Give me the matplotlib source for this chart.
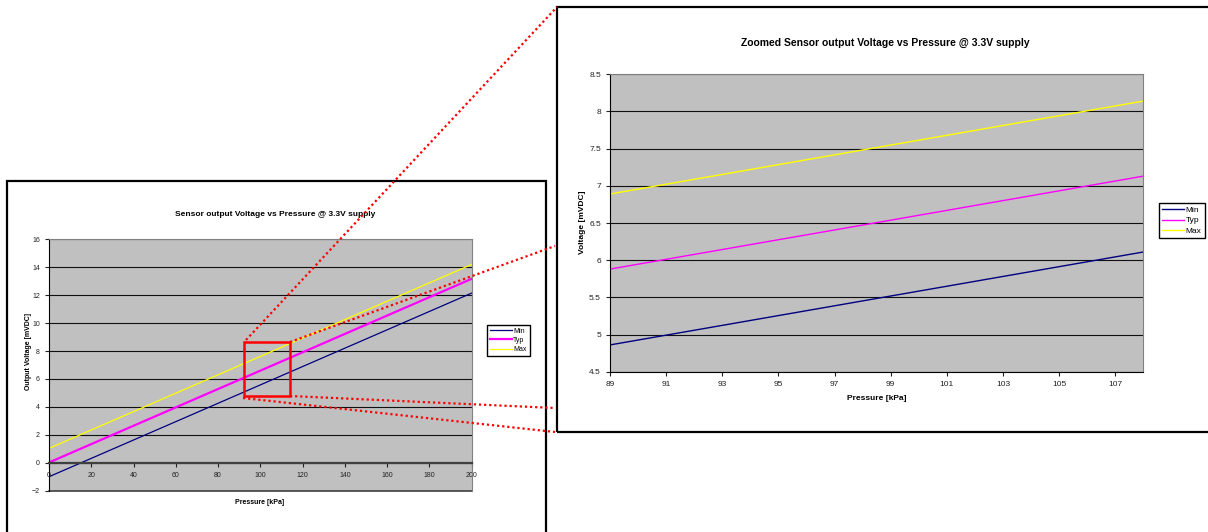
import matplotlib
matplotlib.use("Agg")
import matplotlib.pyplot as plt
from matplotlib.lines import Line2D
from matplotlib.patches import Rectangle

plt.rcParams['font.family'] = ['Liberation Sans', 'DejaVu Sans']

# full range chart
pressure = [0, 200]
v_min = [-1.0, 12.15]
v_typ = [0.02, 13.17]
v_max = [1.03, 14.2]

# zoomed chart
pressure_zoom = [89, 108]
vz_min = [4.86, 6.11]
vz_typ = [5.88, 7.13]
vz_max = [6.89, 8.14]

labels = ["Min", "Typ", "Max"]
colors = ["#000080", "#FF00FF", "#FFFF00"]

# red box drawn on the full chart (data units: x0, y0, x1, y1)
zoom_box = [92.3, 4.78, 114, 8.67]

W, H = 1208, 532
fig = plt.figure(figsize=(W / 100, H / 100), dpi=100)


def px(x, y):
    return x / W, 1 - y / H


def axes_at(x0, y0, x1, y1):
    l, t = px(x0, y0)
    r, b = px(x1, y1)
    return fig.add_axes([l, b, r - l, t - b])


def style(ax, fs):
    ax.set_facecolor("#C0C0C0")
    ax.grid(axis="y", color="#101010", lw=0.8)
    ax.set_axisbelow(True)
    for s in ["top", "right", "bottom"]:
        ax.spines[s].set_color("#808080")
    ax.spines["left"].set_color("black")
    ax.tick_params(labelsize=fs, colors="#222222", length=3, width=0.8)


# ---- left chart ----
ax1 = axes_at(49, 239.3, 471.7, 490.7)
style(ax1, 5)
for y, lab, c, lw in zip([v_min, v_typ, v_max], labels, colors, [0.9, 1.6, 0.9]):
    ax1.plot(pressure, y, color=c, lw=lw, label=lab)
ax1.set_xlim(0, 200)
ax1.set_ylim(-2, 16)
ax1.set_xticks(range(0, 201, 20))
ax1.set_yticks(range(-2, 17, 2))
# x axis crosses at zero, plot area still runs down to -2
ax1.spines["bottom"].set_position(("data", 0))
ax1.spines["bottom"].set_color("#404040")
ax1.spines["bottom"].set_linewidth(1.6)
ax1.axhline(-2, color="#404040", lw=1.2, clip_on=False)
ax1.tick_params(axis="x", pad=4, direction="out")
ax1.add_patch(Rectangle((zoom_box[0], zoom_box[1]), zoom_box[2] - zoom_box[0],
                        zoom_box[3] - zoom_box[1], fill=False, ec="red", lw=1.8,
                        zorder=5, clip_on=False))
fig.text(*px(275, 214), "Sensor output Voltage vs Pressure @ 3.3V supply",
         ha="center", va="center", fontsize=6, fontweight="bold")
fig.text(*px(260, 503), "Pressure [kPa]", ha="center", va="center",
         fontsize=5, fontweight="bold")
fig.text(*px(29, 351), "Output Voltage [mVDC]", ha="center", va="center",
         rotation=90, fontsize=5, fontweight="bold")
ax1.legend(loc="upper left", bbox_to_anchor=px(487, 325),
           bbox_transform=fig.transFigure, borderaxespad=0, fontsize=5,
           frameon=True, fancybox=False, edgecolor="black", framealpha=1,
           handlelength=3.2, handletextpad=0.2, labelspacing=0.3,
           borderpad=0.4)

# ---- right chart ----
ax2 = axes_at(610, 74.3, 1143.3, 371.7)
style(ax2, 6)
for y, lab, c in zip([vz_min, vz_typ, vz_max], labels, colors):
    ax2.plot(pressure_zoom, y, color=c, lw=1.0, label=lab)
ax2.set_xlim(89, 108)
ax2.set_ylim(4.5, 8.5)
ax2.set_xticks(range(89, 108, 2))
ax2.set_yticks([4.5, 5, 5.5, 6, 6.5, 7, 7.5, 8, 8.5])
ax2.set_yticklabels(["4.5", "5", "5.5", "6", "6.5", "7", "7.5", "8", "8.5"])
ax2.spines["bottom"].set_color("black")
ax2.tick_params(axis="x", pad=4)
fig.text(*px(885, 43), "Zoomed Sensor output Voltage vs Pressure @ 3.3V supply",
         ha="center", va="center", fontsize=7.5, fontweight="bold")
fig.text(*px(877, 398), "Pressure [kPa]", ha="center", va="center",
         fontsize=6, fontweight="bold")
fig.text(*px(583, 222), "Voltage [mVDC]", ha="center", va="center",
         rotation=90, fontsize=6, fontweight="bold")
ax2.legend(loc="upper left", bbox_to_anchor=px(1159, 203),
           bbox_transform=fig.transFigure, borderaxespad=0, fontsize=6,
           frameon=True, fancybox=False, edgecolor="black", framealpha=1,
           handlelength=2.6, handletextpad=0.2, labelspacing=0.3,
           borderpad=0.4)

# ---- panel frames ----
for (x0, y0, x1, y1) in [(7, 181, 546, 545), (557, 7, 1220, 432)]:
    l, t = px(x0, y0)
    r, b = px(x1, y1)
    fig.add_artist(Rectangle((l, b), r - l, t - b, fill=False, ec="black",
                             lw=1.6, transform=fig.transFigure))

# ---- dotted connectors ----
connectors = [((246, 340), (557, 7)), ((290, 342), (555, 246)),
              ((290, 396), (555, 408)), ((243, 398), (555, 432))]
for a, b in connectors:
    (xa, ya), (xb, yb) = px(*a), px(*b)
    fig.add_artist(Line2D([xa, xb], [ya, yb], color="red", lw=1.6,
                          linestyle=(0, (1, 1.3)), transform=fig.transFigure,
                          zorder=10))

fig.savefig("out.png", dpi=100)
